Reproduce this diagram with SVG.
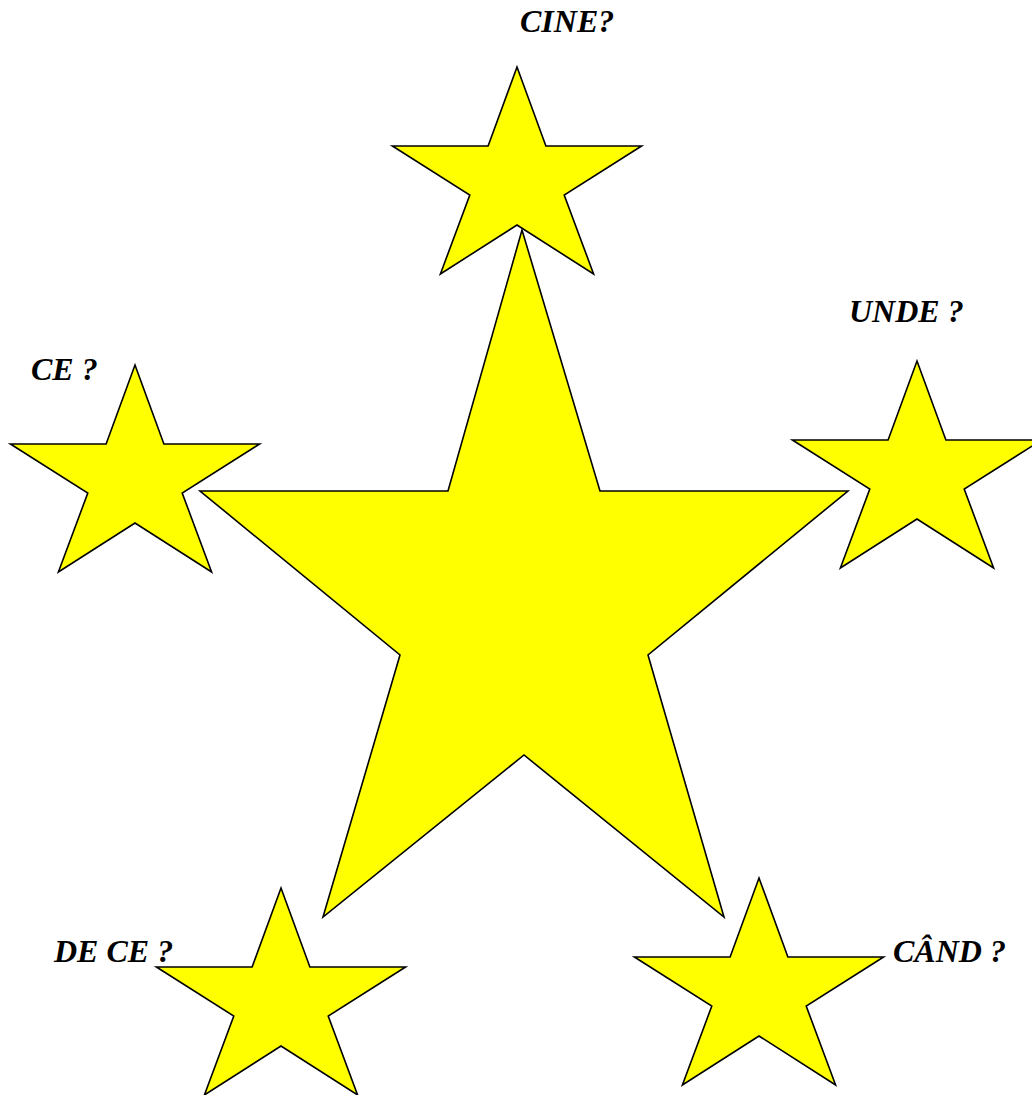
<svg xmlns="http://www.w3.org/2000/svg" xmlns:xlink="http://www.w3.org/1999/xlink" width="1032" height="1095" viewBox="0 0 1032 1095">
<style>
.star{fill:#FFFF00;stroke:#000000;stroke-width:1.6;stroke-linejoin:miter}
.lbl{font-family:"Liberation Serif","Times New Roman",serif;font-weight:bold;font-style:italic;font-size:32px;fill:#000000}
</style>
<defs>
<path id="smallStar" d="M0,0 L28.9,79 L124.6,79 L47.2,128 L76.6,207 L0,158 L-76.6,207 L-47.2,128 L-124.6,79 L-28.9,79 Z"/>
</defs>
<rect width="1032" height="1095" fill="#ffffff"/>
<g id="star-cine">
<use xlink:href="#smallStar" href="#smallStar" class="star" transform="translate(517,67)"/>
<text class="lbl" x="520" y="32">CINE?</text>
</g>
<g id="star-ce">
<use xlink:href="#smallStar" href="#smallStar" class="star" transform="translate(135,365)"/>
<text class="lbl" x="31" y="380">CE ?</text>
</g>
<g id="star-unde">
<use xlink:href="#smallStar" href="#smallStar" class="star" transform="translate(917,361)"/>
<text class="lbl" x="849" y="322">UNDE ?</text>
</g>
<g id="star-dece">
<use xlink:href="#smallStar" href="#smallStar" class="star" transform="translate(281,888)"/>
<text class="lbl" x="54" y="962">DE CE ?</text>
</g>
<g id="star-cand">
<use xlink:href="#smallStar" href="#smallStar" class="star" transform="translate(759,878)"/>
<text class="lbl" x="893" y="962">CÂND ?</text>
</g>
<g id="star-center">
<polygon class="star" points="522,230 600,491 848,491 648,655 724,917 524,755 323,917 400,655 200,491 448,491"/>
</g>
</svg>
